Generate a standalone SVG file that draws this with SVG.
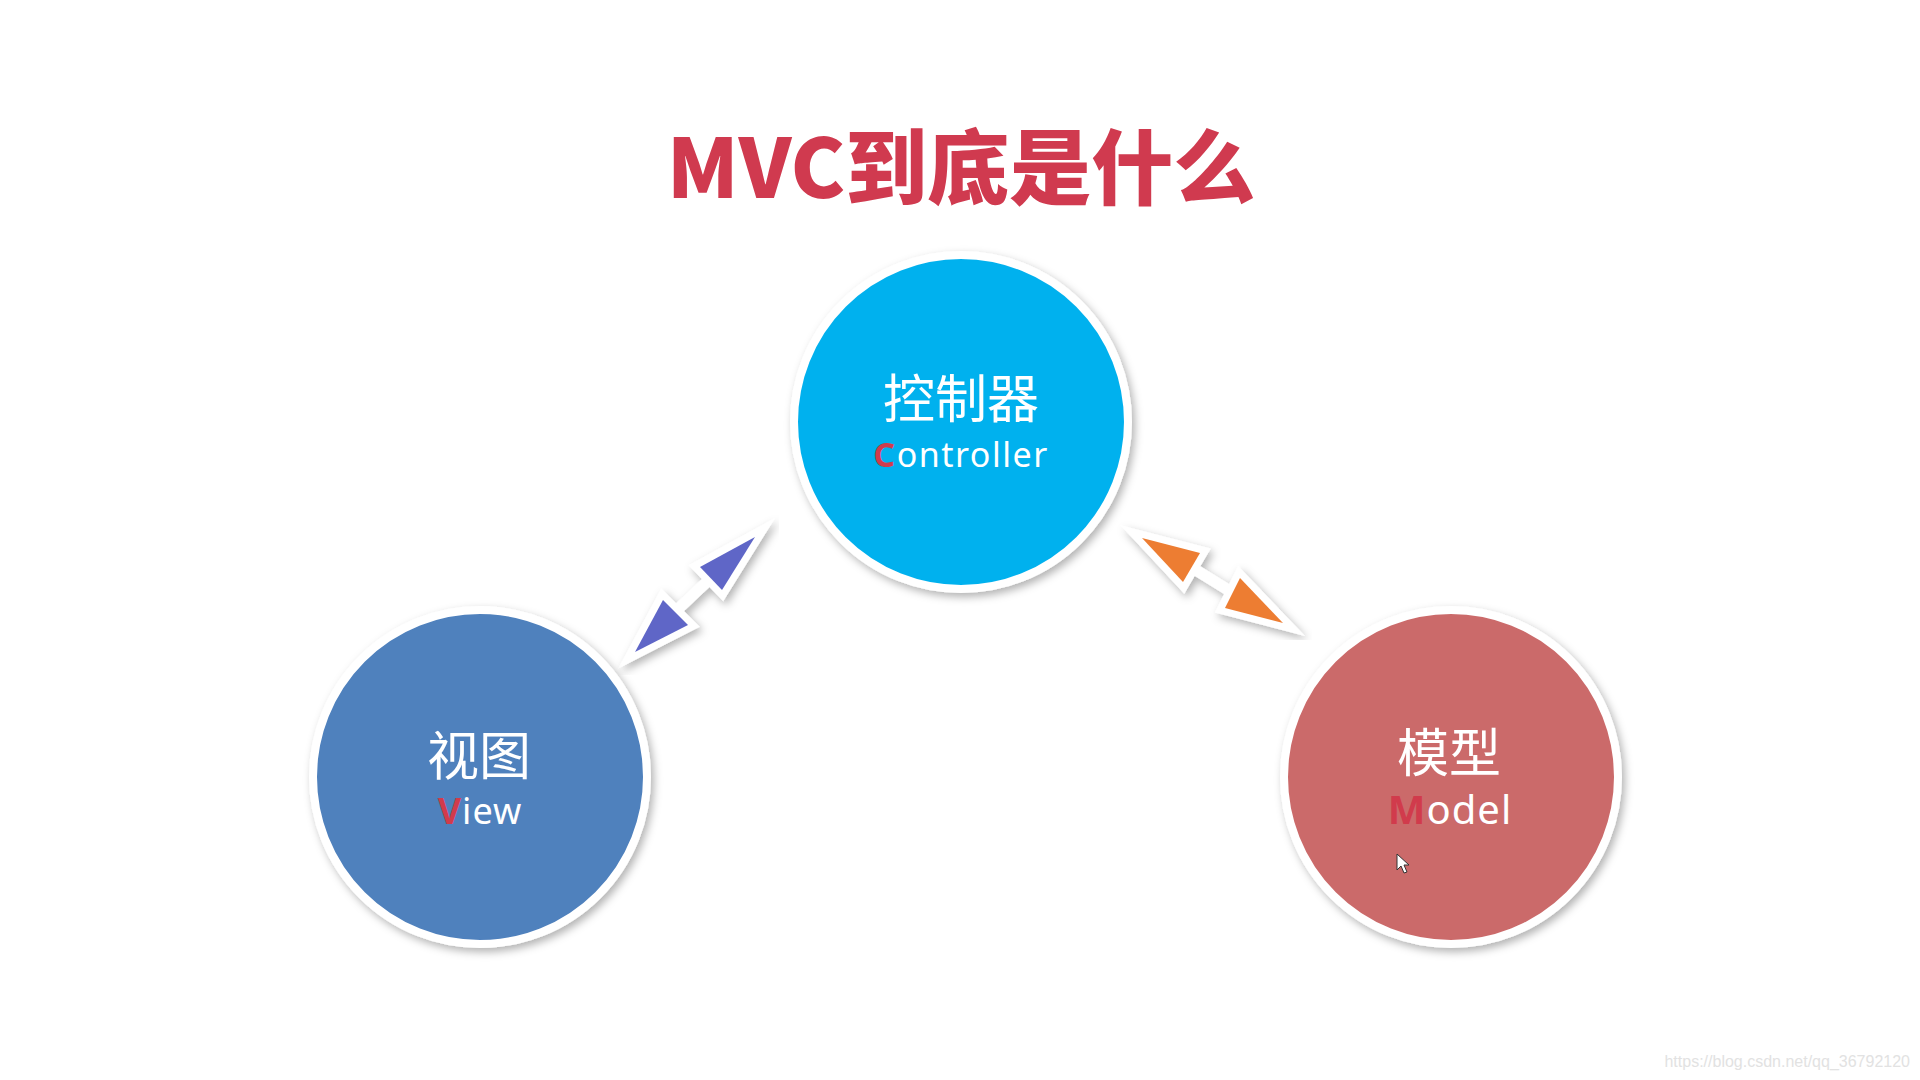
<svg xmlns="http://www.w3.org/2000/svg" width="1920" height="1080" viewBox="0 0 1920 1080">
  <defs>
    <filter id="shadow" x="-20%" y="-20%" width="140%" height="140%">
      <feDropShadow dx="3" dy="4" stdDeviation="4" flood-color="#000" flood-opacity="0.3"/>
    </filter>
    <style>
      .ring { stroke: #ffffff; stroke-width: 8; filter: url(#shadow); }
      .cjk { font-family: "Noto Sans CJK SC", sans-serif; font-size: 52px; fill: #ffffff; text-anchor: middle; }
      .en { font-family: "Noto Sans", "Open Sans", sans-serif; fill: #ffffff; text-anchor: middle; }
      .initial { fill: #D13B4C; font-weight: 700; }
      .head { stroke: #ffffff; stroke-width: 14; stroke-linejoin: miter; stroke-miterlimit: 10; paint-order: stroke; }
      .shaft { stroke: #ffffff; stroke-width: 11; }
    </style>
  </defs>
  <rect width="1920" height="1080" fill="#ffffff"/>

  <text x="961" y="198" font-family="Noto Sans CJK SC, sans-serif" font-weight="900" font-size="82" fill="#D03A4F" text-anchor="middle">MVC到底是什么</text>

  <g id="connectors">
    <g id="view-controller" filter="url(#shadow)">
      <line class="shaft" x1="675" y1="612" x2="711" y2="578"/>
      <polygon class="head" fill="#5F66C7" points="755,537 700,567 722,590"/>
      <polygon class="head" fill="#5F66C7" points="635,652 663,600 688,625"/>
    </g>
    <g id="controller-model" filter="url(#shadow)">
      <line class="shaft" x1="1191" y1="567" x2="1233" y2="593"/>
      <polygon class="head" fill="#ED7D31" points="1142,538 1200,553 1183,582"/>
      <polygon class="head" fill="#ED7D31" points="1283,623 1240,578 1225,608"/>
    </g>
  </g>

  <g id="controller">
    <circle class="ring" cx="961" cy="422" r="167" fill="#05B1EE"/>
    <text class="cjk" x="961" y="418">控制器</text>
    <text class="en" x="961" y="467" font-size="34" letter-spacing="1.5"><tspan class="initial">C</tspan>ontroller</text>
  </g>

  <g id="view">
    <circle class="ring" cx="480" cy="777" r="167" fill="#4F81BD"/>
    <text class="cjk" x="479" y="775">视图</text>
    <text class="en" x="480" y="824" font-size="36" letter-spacing="1"><tspan class="initial">V</tspan>iew</text>
  </g>

  <g id="model">
    <circle class="ring" cx="1451" cy="777" r="167" fill="#CB6B6B"/>
    <text class="cjk" x="1449" y="772">模型</text>
    <text class="en" x="1450" y="824" font-size="40" letter-spacing="1"><tspan class="initial">M</tspan>odel</text>
  </g>

  <polygon points="1397,854 1397,870 1401,866 1404,873 1407,872 1404,865 1409,865" fill="#ffffff" stroke="#333333" stroke-width="1"/>

  <text x="1910" y="1067" font-family="Liberation Sans, Arial, sans-serif" font-size="16" fill="#e2e2e2" text-anchor="end">https://blog.csdn.net/qq_36792120</text>
</svg>
